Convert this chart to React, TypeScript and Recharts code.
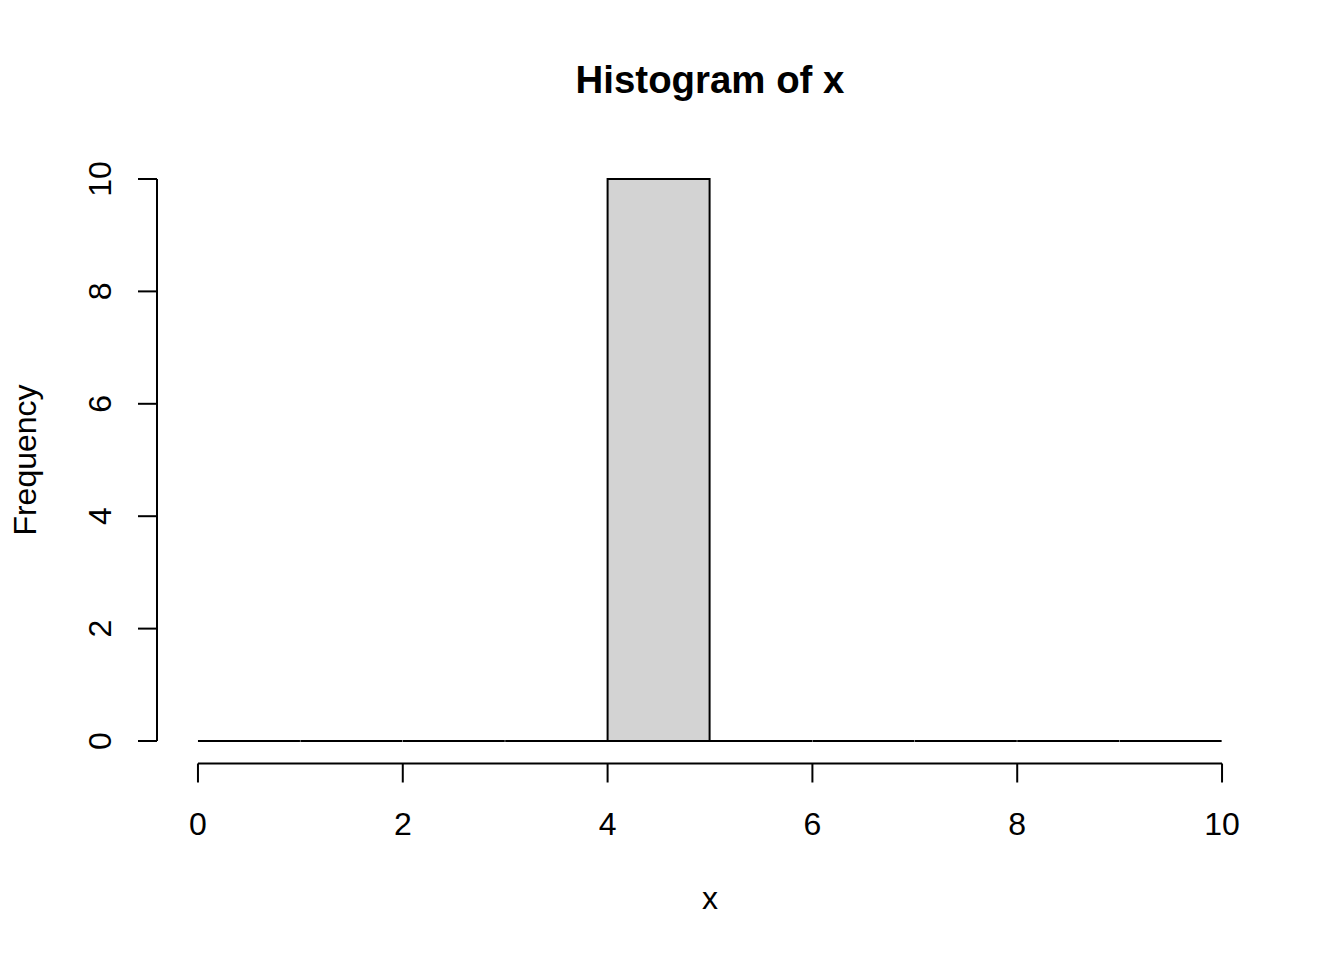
import React from "react";
import { ComposedChart, Bar, XAxis, YAxis, ReferenceLine, Label } from "recharts";

const breaks = [0, 1, 2, 3, 4, 5, 6, 7, 8, 9, 10];
const counts = [0, 0, 0, 0, 10, 0, 0, 0, 0, 0];
const xTicks = [0, 2, 4, 6, 8, 10];
const yTicks = [0, 2, 4, 6, 8, 10];
const title = "Histogram of x";
const xLabel = "x";
const yLabel = "Frequency";

const data = counts.map((c, i) => ({
  mid: (breaks[i] + breaks[i + 1]) / 2,
  count: c,
}));

const FONT = "'Liberation Sans', Arial, Helvetica, sans-serif";
const xMin = breaks[0];
const xMax = breaks[breaks.length - 1];
const yMin = yTicks[0];
const yMax = yTicks[yTicks.length - 1];
const xPad = (xMax - xMin) * 0.04;
const yPad = (yMax - yMin) * 0.04;

const HistBar = (props: any) => {
  const { x, y, width, height } = props;
  if (x == null || y == null) return null;
  const d = `M${x},${y}h${width}v${height}h${-width}Z`;
  return <path d={d} fill="#d3d3d3" stroke="#000" strokeWidth={2} />;
};

const XTick = (props: any) => {
  const { x, y, payload } = props;
  return (
    <text x={x} y={y} textAnchor="middle" fontFamily={FONT} fontSize={32} fill="#000">
      {payload.value}
    </text>
  );
};

const YTick = (props: any) => {
  const { x, y, payload } = props;
  return (
    <text
      x={x}
      y={y}
      transform={`rotate(-90, ${x}, ${y})`}
      textAnchor="middle"
      fontFamily={FONT}
      fontSize={32}
      fill="#000"
    >
      {payload.value}
    </text>
  );
};

export default function App() {
  return (
    <div style={{ position: "absolute", left: 0, top: 0, width: 1344, height: 960, background: "#fff" }}>
      <ComposedChart
        width={1344}
        height={960}
        data={data}
        margin={{ top: 156.5, right: 81, bottom: 96.5, left: 57 }}
        barCategoryGap={0}
        barGap={0}
      >
        <XAxis
          dataKey="mid"
          type="number"
          domain={[xMin - xPad, xMax + xPad]}
          allowDataOverflow
          ticks={xTicks}
          interval={0}
          height={100}
          axisLine={false}
          tickLine={{ stroke: "#000", strokeWidth: 2 }}
          tickSize={19}
          tickMargin={52}
          tick={<XTick />}
        >
          <Label
            content={(p: any) => (
              <text
                x={(p.viewBox.x + p.viewBox.width / 2)}
                y={909}
                textAnchor="middle"
                fontFamily={FONT}
                fontSize={32}
                fill="#000"
              >
                {xLabel}
              </text>
            )}
          />
        </XAxis>
        <YAxis
          type="number"
          domain={[yMin - yPad, yMax + yPad]}
          allowDataOverflow
          ticks={yTicks}
          interval={0}
          width={100}
          axisLine={false}
          tickLine={{ stroke: "#000", strokeWidth: 2 }}
          tickSize={19}
          tickMargin={26.5}
          tick={<YTick />}
        >
          <Label
            content={(p: any) => {
              const cy = p.viewBox.y + p.viewBox.height / 2;
              return (
                <text
                  x={35.5}
                  y={cy}
                  transform={`rotate(-90, 35.5, ${cy})`}
                  textAnchor="middle"
                  fontFamily={FONT}
                  fontSize={32}
                  fill="#000"
                >
                  {yLabel}
                </text>
              );
            }}
          />
        </YAxis>
        <Bar dataKey="count" isAnimationActive={false} shape={<HistBar />} />
        <ReferenceLine
          segment={[{ x: xTicks[0], y: yMin - yPad }, { x: xTicks[xTicks.length - 1], y: yMin - yPad }]}
          stroke="#000"
          strokeWidth={2}
          ifOverflow="visible"
        />
        <ReferenceLine
          segment={[{ x: xMin - xPad, y: yTicks[0] }, { x: xMin - xPad, y: yTicks[yTicks.length - 1] }]}
          stroke="#000"
          strokeWidth={2}
          ifOverflow="visible"
        />
      </ComposedChart>
      <svg
        width={1344}
        height={960}
        style={{ position: "absolute", left: 0, top: 0, pointerEvents: "none" }}
      >
        <text x={710} y={93} textAnchor="middle" fontFamily={FONT} fontSize={38.4} fontWeight="bold" fill="#000">
          {title}
        </text>
      </svg>
    </div>
  );
}
